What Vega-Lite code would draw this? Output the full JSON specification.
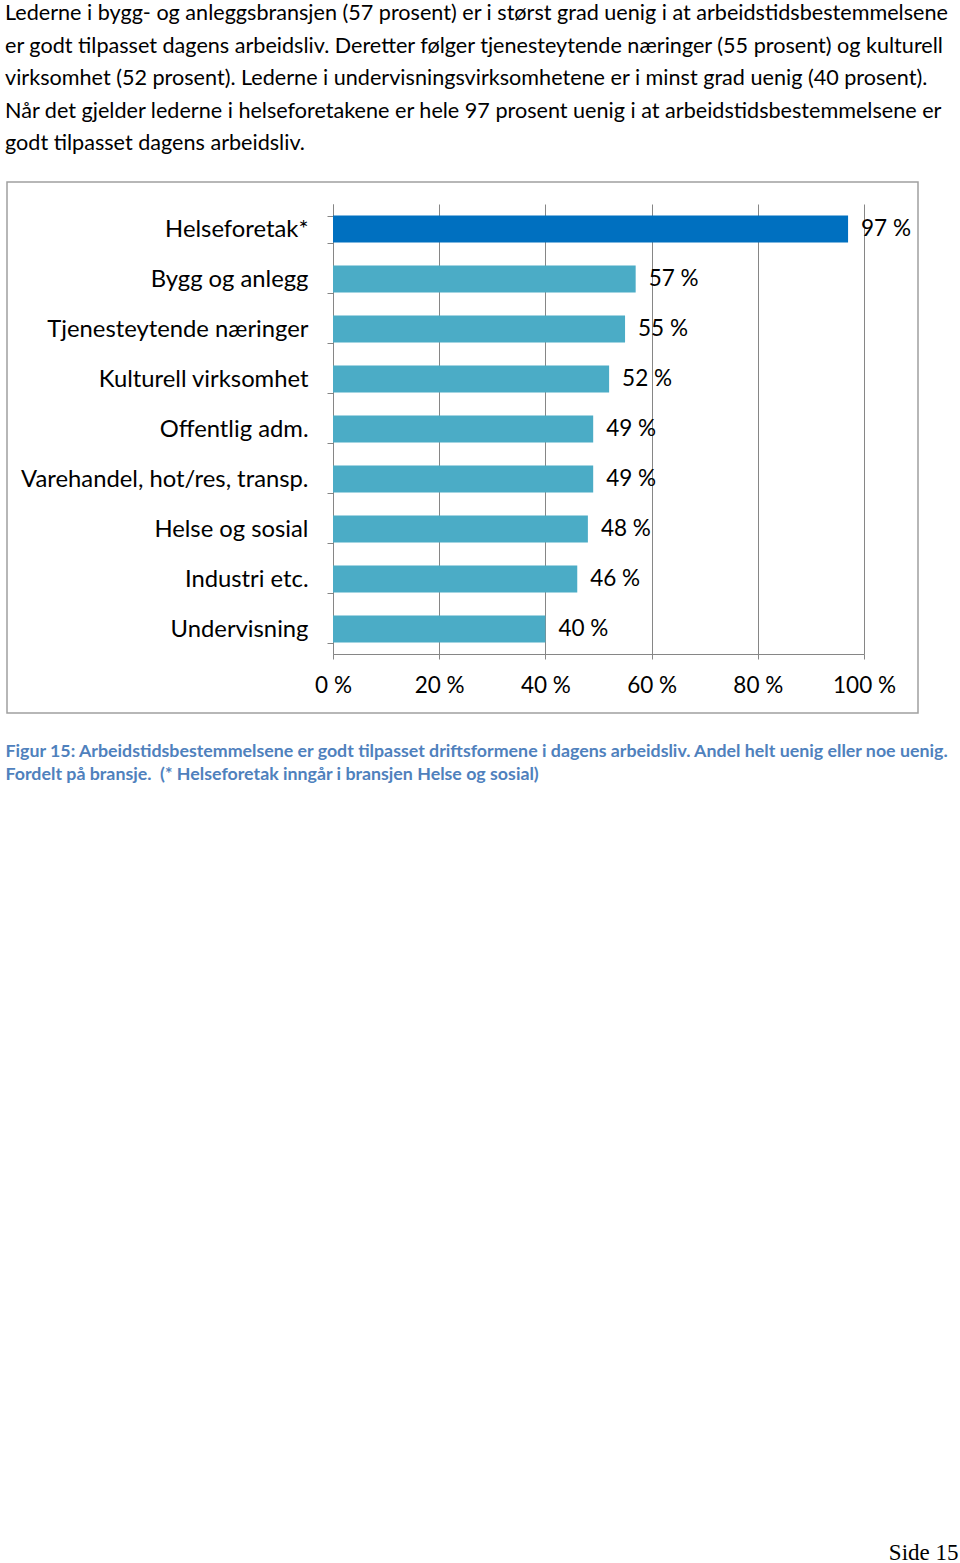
{
  "$schema": "https://vega.github.io/schema/vega-lite/v6.json",
  "autosize": "none",
  "width": 911,
  "height": 531,
  "padding": {"left": 7, "top": 182, "right": 42, "bottom": 850},
  "background": "white",
  "title": {
    "text": [
      "Lederne i bygg- og anleggsbransjen (57 prosent) er i størst grad uenig i at arbeidstidsbestemmelsene",
      "er godt tilpasset dagens arbeidsliv. Deretter følger tjenesteytende næringer (55 prosent) og kulturell",
      "virksomhet (52 prosent). Lederne i undervisningsvirksomhetene er i minst grad uenig (40 prosent).",
      "Når det gjelder lederne i helseforetakene er hele 97 prosent uenig i at arbeidstidsbestemmelsene er",
      "godt tilpasset dagens arbeidsliv."
    ],
    "anchor": "start",
    "frame": "group",
    "dx": -2,
    "dy": 39,
    "offset": 32,
    "font": "Lato",
    "fontSize": 21.6,
    "fontWeight": "normal",
    "color": "#000000",
    "lineHeight": 32.5,
    "baseline": "bottom",
    "limit": 0
  },
  "data": {
    "values": [
      {"bransje": "Helseforetak*", "andel": 0.97},
      {"bransje": "Bygg og anlegg", "andel": 0.57},
      {"bransje": "Tjenesteytende næringer", "andel": 0.55},
      {"bransje": "Kulturell virksomhet", "andel": 0.52},
      {"bransje": "Offentlig adm.", "andel": 0.49},
      {"bransje": "Varehandel, hot/res, transp.", "andel": 0.49},
      {"bransje": "Helse og sosial", "andel": 0.48},
      {"bransje": "Industri etc.", "andel": 0.46},
      {"bransje": "Undervisning", "andel": 0.40}
    ]
  },
  "layer": [
    {
      "mark": {"type": "bar"},
      "encoding": {
        "y": {
          "field": "bransje",
          "type": "nominal",
          "sort": null,
          "scale": {"range": [22, 472], "paddingInner": 0.46, "paddingOuter": 0.23},
          "axis": {
            "orient": "left",
            "offset": -326,
            "labelFont": "Lato",
            "labelFontSize": 23.8,
            "labelColor": "#000000",
            "labelPadding": 19,
            "labelLimit": 0,
            "tickBand": "extent",
            "tickSize": 6,
            "tickColor": "#868686",
            "domainColor": "#868686",
            "grid": false,
            "title": "Side 15",
            "titleX": 625,
            "titleY": 1377,
            "titleAngle": 0,
            "titleAlign": "right",
            "titleBaseline": "alphabetic",
            "titleFont": "Liberation Serif",
            "titleFontSize": 23,
            "titleFontWeight": "normal",
            "titleColor": "#000000"
          }
        },
        "x": {
          "field": "andel",
          "type": "quantitative",
          "scale": {"domain": [0, 1], "range": [326, 857]},
          "axis": {
            "orient": "bottom",
            "offset": -59,
            "grid": false,
            "values": [0, 0.2, 0.4, 0.6, 0.8, 1],
            "format": ".0%",
            "labelFont": "Lato",
            "labelFontSize": 22.5,
            "labelColor": "#000000",
            "labelPadding": 15,
            "labelFlush": false,
            "tickSize": 5,
            "tickColor": "#868686",
            "domainColor": "#868686",
            "title": [
              "Figur 15: Arbeidstidsbestemmelsene er godt tilpasset driftsformene i dagens arbeidsliv. Andel helt uenig eller noe uenig.",
              "Fordelt på bransje.\u00a0 (* Helseforetak inngår i bransjen Helse og sosial)"
            ],
            "titleX": -2,
            "titleY": 102,
            "titleAnchor": "start",
            "titleAlign": "left",
            "titleBaseline": "alphabetic",
            "titleFont": "Lato",
            "titleFontSize": 17.8,
            "titleFontWeight": "bold",
            "titleColor": "#4F81BD",
            "titleLineHeight": 23,
            "titleLimit": 2000
          }
        },
        "color": {
          "condition": {"test": "datum.bransje === 'Helseforetak*'", "value": "#0070C0"},
          "value": "#4BACC6"
        }
      }
    },
    {
      "mark": {"type": "text", "align": "left", "baseline": "middle", "dx": 13, "font": "Lato", "fontSize": 22.5, "color": "#000000"},
      "encoding": {
        "y": {"field": "bransje", "type": "nominal", "sort": null},
        "x": {
          "field": "andel",
          "type": "quantitative",
          "axis": {
            "orient": "top",
            "grid": true,
            "gridColor": "#868686",
            "gridWidth": 1,
            "gridOpacity": 1,
            "values": [0, 0.2, 0.4, 0.6, 0.8, 1],
            "labels": false,
            "ticks": false,
            "domain": false,
            "title": null
          }
        },
        "text": {"field": "andel", "type": "quantitative", "format": ".0%"}
      }
    }
  ],
  "resolve": {"axis": {"x": "independent"}},
  "config": {
    "view": {"stroke": "#a0a0a0", "strokeWidth": 1.5},
    "locale": {
      "number": {
        "decimal": ",",
        "thousands": " ",
        "grouping": [3],
        "currency": ["", " kr"],
        "percent": " %"
      }
    }
  }
}
